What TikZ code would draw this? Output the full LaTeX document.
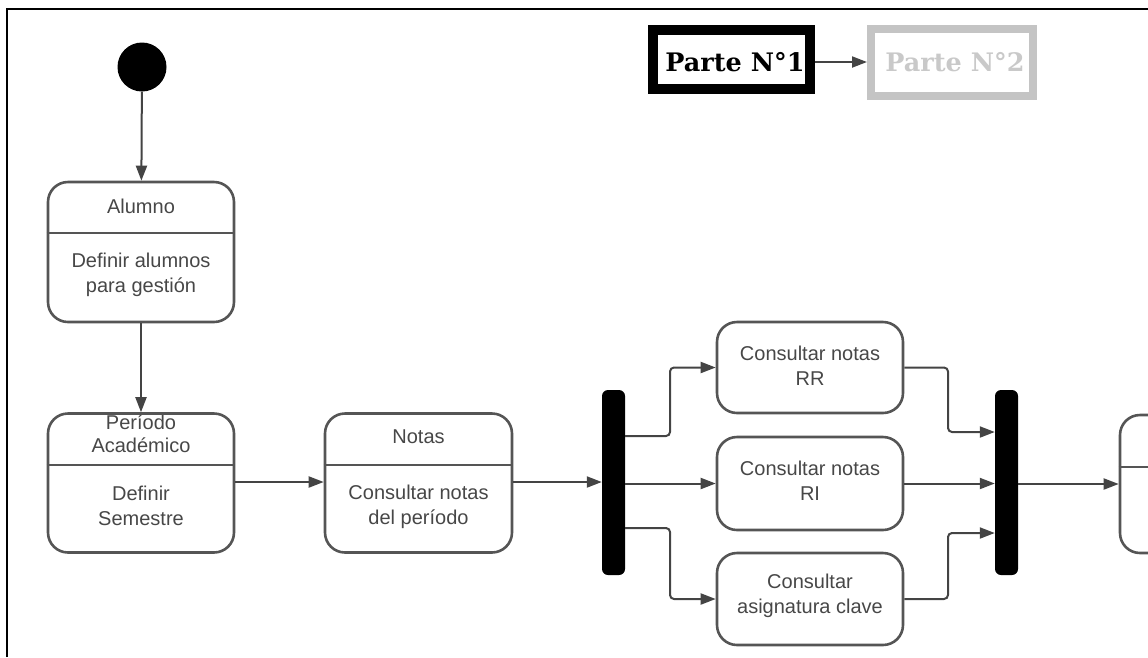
\documentclass[tikz,border=0pt]{standalone}
\usepackage{fontspec}
\setmainfont{Liberation Sans}
\newfontfamily\titlefont{DejaVu Serif}
\usetikzlibrary{arrows.meta}

\definecolor{ink}{HTML}{474747}
\definecolor{edgegray}{HTML}{555555}
\definecolor{wire}{HTML}{444444}
\definecolor{faded}{HTML}{C4C4C4}
\definecolor{fadedtext}{HTML}{C9C9C9}

\begin{document}
\begin{tikzpicture}[x=1pt,y=-1pt,
  conn/.style={draw=wire, line width=2pt, rounded corners=4pt,
    -{Triangle[length=15pt,width=11pt]}},
  state/.style={draw=edgegray, line width=2.6pt, rounded corners=20pt,
    rectangle, inner sep=0pt},
  divider/.style={draw=edgegray, line width=2.6pt},
  lbl/.style={text=ink, align=center, inner sep=0pt,
    font=\fontsize{20}{25}\selectfont},
  bar/.style={fill=black, rounded corners=6pt, inner sep=0pt,
    minimum width=23pt, minimum height=185pt},
  part/.style={inner sep=0pt, font=\titlefont\bfseries\fontsize{25.5}{30}\selectfont}
]
\useasboundingbox (0,0) rectangle (1148,657);
\clip (0,0) rectangle (1148,657);

% outer frame (open to the right and bottom)
\draw[line width=2pt] (7,657) -- (7,9) -- (1148,9);

% part navigation
\node[draw=black, line width=10pt, minimum width=157pt, minimum height=59pt,
  inner sep=0pt] (p1box) at (731.5,59.5) {};
\node[part, text=black] (p1txt) at (735,62) {Parte N°1};
\node[draw=faded, line width=8pt, minimum width=162pt, minimum height=67pt,
  inner sep=0pt] (p2box) at (952,62.5) {};
\node[part, text=fadedtext] (p2txt) at (955,62) {Parte N°2};
\draw[conn] (p1box.east |- 0,62) -- (p2box.west |- 0,62);

% initial node
\node[circle, fill=black, minimum size=49pt, inner sep=0pt] (start) at (142,67) {};

% Alumno
\node[state, minimum width=186pt, minimum height=140pt] (alumno) at (141,252) {};
\draw[divider] (alumno.west |- 0,233) -- (alumno.east |- 0,233);
\node[lbl] (alumnoT) at (141,206) {Alumno};
\node[lbl] (alumnoB) at (141,275) {Definir alumnos\\para gestión};

% Periodo Academico (title sits high, under the top border)
\node[lbl, font=\fontsize{20}{23}\selectfont] (periodoT) at (141,434) {Período\\Académico};
\node[state, minimum width=186pt, minimum height=139pt] (periodo) at (141,483) {};
\draw[divider] (periodo.west |- 0,465) -- (periodo.east |- 0,465);
\node[lbl] (periodoB) at (141,506) {Definir\\Semestre};

% Notas
\node[state, minimum width=187pt, minimum height=139pt] (notas) at (418.5,483) {};
\draw[divider] (notas.west |- 0,465) -- (notas.east |- 0,465);
\node[lbl] (notasT) at (418.5,437) {Notas};
\node[lbl] (notasB) at (418.5,507) {Consultar notas\\del período};

% fork / join bars
\node[bar] (fork) at (613.5,482.5) {};
\node[bar] (join) at (1006.5,482.5) {};

% parallel activities
\node[state, minimum width=186pt, minimum height=91pt] (rr) at (810,367.5) {};
\node[lbl] (rrT) at (810,366) {Consultar notas\\RR};
\node[state, minimum width=186pt, minimum height=93pt] (ri) at (810,483.5) {};
\node[lbl] (riT) at (810,481) {Consultar notas\\RI};
\node[state, minimum width=186pt, minimum height=92pt] (clave) at (810,599) {};
\node[lbl] (claveT) at (810,596) {Consultar\\asignatura clave};

% next state (continues past the right edge)
\node[state, minimum width=200pt, minimum height=138pt] (next) at (1220,484) {};
\draw[divider] (next.west |- 0,467) -- (1148,467);

% flow
\draw[conn] (start) -- (alumno);
\draw[conn] (alumno) -- (periodo);
\draw[conn] (periodo.east |- 0,482) -- (notas.west |- 0,482);
\draw[conn] (notas.east |- 0,482) -- (fork.west |- 0,482);

\draw[conn] (fork.east |- 0,436) -- (670,436) |- (rr.west);
\draw[conn] (fork.east |- ri.west) -- (ri.west);
\draw[conn] (fork.east |- 0,528) -- (670,528) |- (clave.west);

\draw[conn] (rr.east) -| (948,432) -- (join.west |- 0,432);
\draw[conn] (ri.east) -- (join.west |- ri.east);
\draw[conn] (clave.east) -| (948,533) -- (join.west |- 0,533);

\draw[conn] (join.east |- next.west) -- (next.west);
\end{tikzpicture}
\end{document}
